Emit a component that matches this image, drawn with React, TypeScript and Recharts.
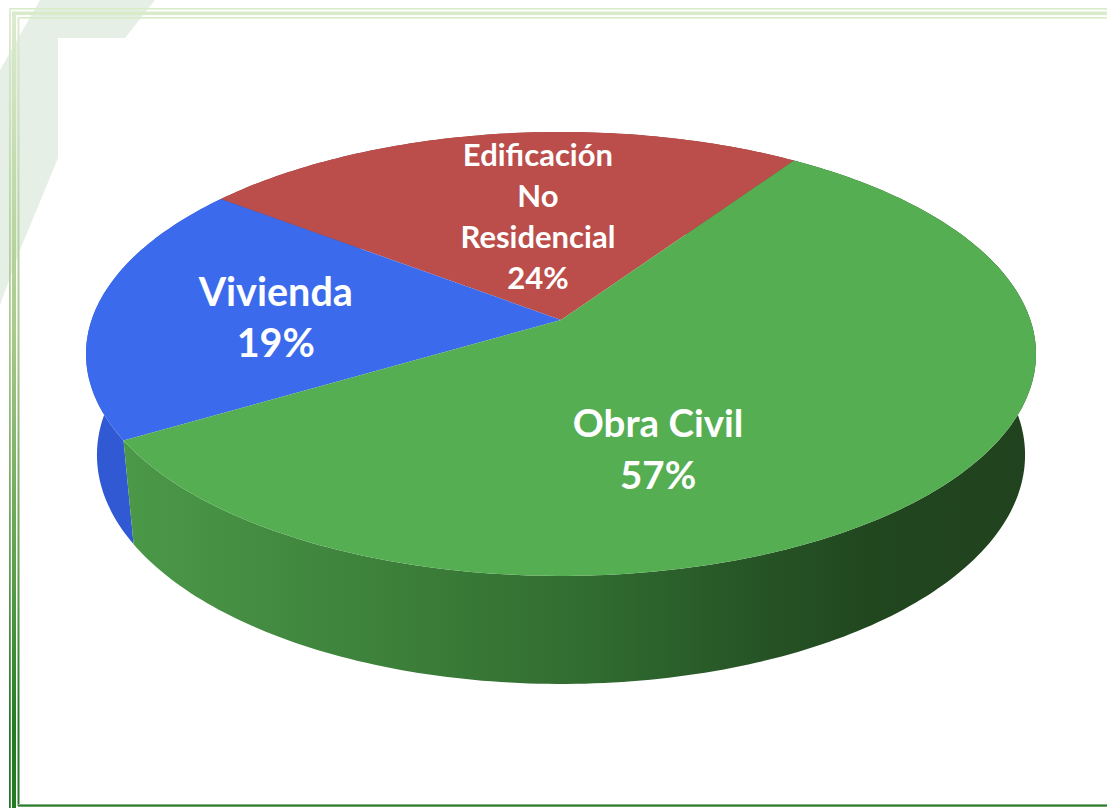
import { Pie, PieChart } from "recharts";

const categories = ["Edificación No Residencial", "Vivienda", "Obra Civil"];
const shares = [24, 19, 57];
const labelLines = [
    ["Edificación", "No", "Residencial"],
    ["Vivienda"],
    ["Obra Civil"],
];
const topColors = ["#bb4e4a", "#3b6bec", "#55ae52"];
const wallColors = ["#8f3a37", "#3159d3", "url(#wallGreen)"];

const chartData = categories.map((name, i) => ({
    name,
    value: shares[i],
    top: topColors[i],
    wall: wallColors[i],
    lines: labelLines[i],
}));

// the pie is a flat disc seen in perspective, so every point goes through this
const SQUASH = 0.3575;
const PERSPECTIVE = -0.153;
const WALL_DROP = 100;
const WALL_SQUASH = 0.3394;
const WALL_WIDTH = 0.977;

const project = (cx: number, cy: number, r: number, deg: number, frac = 1) => {
    const rad = (deg * Math.PI) / 180;
    const x = Math.cos(rad) * frac;
    const y = -Math.sin(rad) * frac;
    const w = 1 + PERSPECTIVE * y;
    return { x: cx + (r * x) / w, y: (cy + r * SQUASH * y) / w };
};

const projectLow = (cx: number, cy: number, r: number, deg: number) => {
    const rad = (deg * Math.PI) / 180;
    const x = Math.cos(rad);
    const y = -Math.sin(rad);
    const w = 1 + PERSPECTIVE * y;
    return {
        x: cx + (r * WALL_WIDTH * x) / w,
        y: (cy + WALL_DROP + r * WALL_SQUASH * y) / w,
    };
};

const arcAngles = (start: number, end: number) => {
    const steps = Math.max(2, Math.ceil(Math.abs(end - start)));
    return Array.from({ length: steps + 1 }, (_, i) => start + ((end - start) * i) / steps);
};

const toPath = (points: { x: number; y: number }[]) =>
    points.map((p, i) => `${i === 0 ? "M" : "L"}${p.x.toFixed(2)},${p.y.toFixed(2)}`).join(" ") + " Z";

const TopFace = (props: any) => {
    const { cx, cy, outerRadius, startAngle, endAngle, payload } = props;
    const rim = arcAngles(startAngle, endAngle).map((a) => project(cx, cy, outerRadius, a));
    const apex = project(cx, cy, outerRadius, 0, 0);
    return <path d={toPath([apex, ...rim])} fill={payload.top} />;
};

// one quad per degree, so the straight silhouette between both rims gets filled too
const WallFace = (props: any) => {
    const { cx, cy, outerRadius, startAngle, endAngle, payload } = props;
    const angles = arcAngles(startAngle, endAngle);
    const quads = angles.slice(1).map((a, i) => {
        const prev = angles[i];
        return toPath([
            project(cx, cy, outerRadius, prev),
            project(cx, cy, outerRadius, a),
            projectLow(cx, cy, outerRadius, a),
            projectLow(cx, cy, outerRadius, prev),
        ]);
    });
    return <path d={quads.join(" ")} fill={payload.wall} />;
};

// where each label sits on the disc: angle in degrees, fraction of the radius
const labelSpots: Record<string, { angle: number; frac: number; size: number; gap: number }> = {
    "Edificación No Residencial": { angle: 95.8, frac: 0.525, size: 31, gap: 41 },
    Vivienda: { angle: 178, frac: 0.61, size: 39.5, gap: 51 },
    "Obra Civil": { angle: 289.3, frac: 0.574, size: 38.5, gap: 52 },
};

const renderLabel = (props: any) => {
    const { cx, cy, outerRadius, name, value, payload } = props;
    const spot = labelSpots[name];
    const at = project(cx, cy, outerRadius, spot.angle, spot.frac);
    const lines = [...payload.lines, `${value}%`];
    const firstY = at.y - ((lines.length - 1) * spot.gap) / 2;
    return (
        <text
            key={name}
            x={at.x}
            y={firstY}
            fill="#ffffff"
            textAnchor="middle"
            dominantBaseline="central"
            style={{ fontFamily: "Lato, sans-serif", fontWeight: 700, fontSize: spot.size }}
        >
            {lines.map((line: string, i: number) => (
                <tspan key={line} x={at.x} y={firstY + i * spot.gap}>
                    {line}
                </tspan>
            ))}
        </text>
    );
};

const Backdrop = () => (
    <svg width={1107} height={808} style={{ position: "absolute", left: 0, top: 0 }}>
        <defs>
            <linearGradient id="frameLeft" x1="0" y1="0" x2="0" y2="1">
                <stop offset="0%" stopColor="#dcecd0" />
                <stop offset="40%" stopColor="#a9ca8c" />
                <stop offset="70%" stopColor="#5d9f4c" />
                <stop offset="90%" stopColor="#247a25" />
                <stop offset="100%" stopColor="#247a25" />
            </linearGradient>
        </defs>
        <polygon
            points="40,0 155,0 125,38 58,38 58,158 20,250 0,305 0,70"
            fill="#e5efe5"
        />
        <rect x={9} y={8} width={1098} height={1.6} fill="#d9ecca" />
        <rect x={12} y={11.5} width={1095} height={3.6} fill="#d9ecca" />
        <rect x={18} y={17} width={1089} height={1.6} fill="#d9ecca" />
        <rect x={9} y={8} width={1.8} height={800} fill="url(#frameLeft)" />
        <rect x={12} y={11.5} width={4} height={796.5} fill="url(#frameLeft)" />
        <rect x={17.5} y={17} width={2} height={789} fill="url(#frameLeft)" />
        <rect x={18} y={804} width={1089} height={1.2} fill="#7fb27f" />
        <rect x={18} y={805} width={1089} height={1.7} fill="#2d7d2d" />
    </svg>
);

export default function App() {
    return (
        <div style={{ position: "absolute", left: 0, top: 0, width: 1107, height: 808, background: "#ffffff" }}>
            <Backdrop />
            <div style={{ position: "absolute", left: 0, top: 0 }}>
                <PieChart width={1107} height={808} margin={{ top: 0, right: 0, bottom: 0, left: 0 }}>
                    <defs>
                        <linearGradient id="wallGreen" gradientUnits="userSpaceOnUse" x1="130" y1="0" x2="1030" y2="0">
                            <stop offset="0%" stopColor="#4b9848" />
                            <stop offset="30%" stopColor="#3c7f3a" />
                            <stop offset="50%" stopColor="#316d30" />
                            <stop offset="68%" stopColor="#275627" />
                            <stop offset="82%" stopColor="#21471f" />
                            <stop offset="100%" stopColor="#21421e" />
                        </linearGradient>
                    </defs>
                    <Pie
                        data={chartData}
                        dataKey="value"
                        nameKey="name"
                        cx={561}
                        cy={320}
                        innerRadius={0}
                        outerRadius={469.4}
                        startAngle={56}
                        endAngle={416}
                        stroke="none"
                        shape={WallFace}
                        isAnimationActive={false}
                    />
                    <Pie
                        data={chartData}
                        dataKey="value"
                        nameKey="name"
                        cx={561}
                        cy={320}
                        innerRadius={0}
                        outerRadius={469.4}
                        startAngle={56}
                        endAngle={416}
                        stroke="none"
                        shape={TopFace}
                        label={renderLabel}
                        labelLine={false}
                        isAnimationActive={false}
                    />
                </PieChart>
            </div>
        </div>
    );
}
